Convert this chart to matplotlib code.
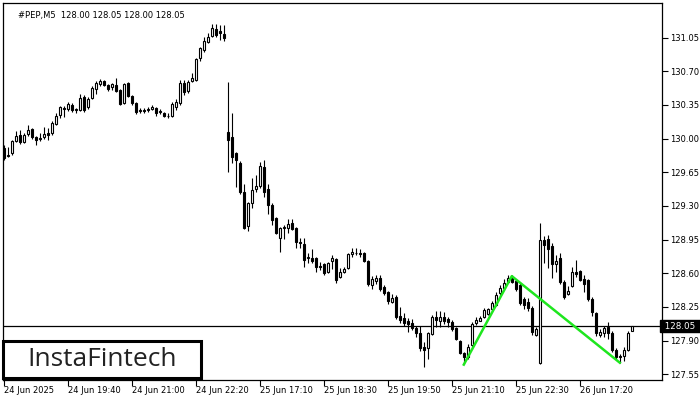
import numpy as np
import matplotlib
matplotlib.use("Agg")
import matplotlib.pyplot as plt
from matplotlib.patches import Rectangle

# M5 candles, 24 Jun 18:20 .. 26 Jun 18:25 (sessions are joined, no gaps)
opens = [129.90, 129.82, 129.85, 129.97, 130.04, 129.96, 130.05, 130.10, 130.02, 130.00,
         130.02, 130.06, 130.06, 130.15, 130.25, 130.32, 130.31, 130.35, 130.30, 130.30,
         130.43, 130.33, 130.42, 130.52, 130.57, 130.60, 130.56, 130.54, 130.56, 130.51,
         130.37, 130.58, 130.44, 130.37, 130.29, 130.30, 130.30, 130.31, 130.32, 130.28,
         130.27, 130.24, 130.23, 130.33, 130.37, 130.58, 130.50, 130.60, 130.61, 130.84,
         130.92, 131.00, 131.07, 131.14, 131.12, 131.09, 130.07, 130.02, 129.85, 129.75,
         129.44, 129.09, 129.33, 129.48, 129.51, 129.70, 129.48, 129.31, 129.17, 128.97,
         129.07, 129.07, 129.12, 129.07, 128.92, 128.90, 128.76, 128.76, 128.76, 128.68,
         128.70, 128.61, 128.73, 128.75, 128.56, 128.61, 128.65, 128.80, 128.81, 128.81,
         128.81, 128.73, 128.48, 128.52, 128.55, 128.46, 128.41, 128.30, 128.35, 128.16,
         128.13, 128.10, 128.08, 128.03, 127.98, 127.83, 127.82, 127.97, 128.14, 128.10,
         128.15, 128.12, 128.09, 128.03, 127.90, 127.77, 127.73, 127.85, 128.08, 128.10,
         128.14, 128.18, 128.23, 128.27, 128.39, 128.45, 128.51, 128.56, 128.52, 128.48,
         128.33, 128.30, 128.24, 127.96, 127.67, 128.95, 128.96, 128.88, 128.70, 128.76,
         128.51, 128.38, 128.47, 128.61, 128.62, 128.54, 128.53, 128.33, 128.19, 127.96,
         127.98, 128.04, 127.98, 127.80, 127.74, 127.74, 127.80, 128.00]
highs = [129.93, 129.91, 129.99, 130.08, 130.09, 130.06, 130.14, 130.11, 130.03, 130.06,
         130.12, 130.11, 130.18, 130.27, 130.34, 130.34, 130.38, 130.37, 130.32, 130.46,
         130.45, 130.43, 130.55, 130.60, 130.62, 130.61, 130.57, 130.58, 130.63, 130.52,
         130.58, 130.59, 130.45, 130.38, 130.32, 130.32, 130.33, 130.35, 130.33, 130.31,
         130.28, 130.27, 130.38, 130.41, 130.61, 130.61, 130.61, 130.68, 130.84, 130.95,
         131.06, 131.10, 131.19, 131.19, 131.18, 131.18, 130.59, 130.27, 129.86, 129.77,
         129.53, 129.34, 129.59, 129.62, 129.76, 129.78, 129.53, 129.33, 129.18, 129.08,
         129.10, 129.16, 129.16, 129.08, 128.97, 128.97, 128.81, 128.85, 128.77, 128.72,
         128.71, 128.72, 128.79, 128.76, 128.65, 128.67, 128.81, 128.86, 128.86, 128.85,
         128.82, 128.74, 128.57, 128.58, 128.58, 128.48, 128.42, 128.38, 128.37, 128.25,
         128.19, 128.13, 128.12, 128.05, 128.05, 127.88, 127.99, 128.17, 128.21, 128.21,
         128.20, 128.14, 128.11, 128.04, 127.91, 127.78, 127.86, 128.09, 128.14, 128.16,
         128.24, 128.24, 128.31, 128.40, 128.48, 128.54, 128.58, 128.58, 128.54, 128.50,
         128.35, 128.34, 128.26, 128.04, 129.12, 128.99, 129.00, 128.91, 128.79, 128.81,
         128.53, 128.47, 128.66, 128.74, 128.63, 128.58, 128.54, 128.35, 128.20, 128.02,
         128.05, 128.09, 128.00, 127.82, 127.76, 127.83, 128.00, 128.05]
lows = [129.78, 129.81, 129.83, 129.96, 129.94, 129.95, 130.03, 130.00, 129.93, 129.97,
        130.00, 129.99, 130.04, 130.14, 130.21, 130.22, 130.29, 130.28, 130.27, 130.29,
        130.28, 130.31, 130.41, 130.46, 130.55, 130.55, 130.49, 130.51, 130.48, 130.35,
        130.36, 130.43, 130.35, 130.26, 130.27, 130.27, 130.28, 130.30, 130.24, 130.26,
        130.22, 130.21, 130.22, 130.30, 130.35, 130.45, 130.47, 130.59, 130.60, 130.81,
        130.90, 130.99, 131.06, 131.06, 131.03, 131.02, 129.65, 129.75, 129.50, 129.42,
        129.06, 129.04, 129.28, 129.44, 129.49, 129.39, 129.22, 129.10, 129.01, 128.82,
        128.96, 129.02, 129.05, 128.86, 128.86, 128.66, 128.71, 128.71, 128.61, 128.63,
        128.58, 128.60, 128.64, 128.50, 128.55, 128.60, 128.64, 128.77, 128.79, 128.77,
        128.72, 128.47, 128.44, 128.49, 128.42, 128.37, 128.28, 128.29, 128.12, 128.08,
        128.05, 127.99, 128.01, 127.94, 127.79, 127.62, 127.71, 127.96, 128.04, 128.04,
        128.07, 128.04, 128.00, 127.91, 127.76, 127.66, 127.71, 127.83, 128.06, 128.10,
        128.13, 128.17, 128.21, 128.26, 128.36, 128.44, 128.50, 128.50, 128.42, 128.27,
        128.23, 128.21, 127.96, 127.95, 127.66, 128.71, 128.65, 128.55, 128.61, 128.49,
        128.33, 128.37, 128.46, 128.56, 128.52, 128.40, 128.31, 128.16, 127.95, 127.94,
        127.94, 127.92, 127.78, 127.71, 127.67, 127.69, 127.79, 128.00]
closes = [129.80, 129.83, 129.97, 130.03, 129.96, 130.04, 130.09, 130.02, 129.99, 130.01,
          130.05, 130.04, 130.16, 130.23, 130.33, 130.31, 130.36, 130.30, 130.30, 130.42,
          130.30, 130.41, 130.53, 130.58, 130.60, 130.56, 130.52, 130.57, 130.50, 130.36,
          130.57, 130.44, 130.37, 130.28, 130.30, 130.29, 130.31, 130.33, 130.27, 130.28,
          130.23, 130.23, 130.36, 130.38, 130.58, 130.48, 130.59, 130.63, 130.83, 130.94,
          131.01, 131.06, 131.15, 131.08, 131.10, 131.05, 129.99, 129.81, 129.78, 129.45,
          129.07, 129.33, 129.47, 129.51, 129.72, 129.44, 129.31, 129.15, 129.02, 129.07,
          129.08, 129.11, 129.06, 128.93, 128.91, 128.74, 128.76, 128.73, 128.66, 128.67,
          128.60, 128.71, 128.76, 128.53, 128.61, 128.64, 128.80, 128.82, 128.81, 128.80,
          128.73, 128.49, 128.54, 128.55, 128.44, 128.39, 128.31, 128.34, 128.14, 128.11,
          128.08, 128.07, 128.03, 127.98, 127.82, 127.80, 127.98, 128.15, 128.11, 128.14,
          128.10, 128.09, 128.02, 127.92, 127.77, 127.73, 127.83, 128.07, 128.11, 128.13,
          128.22, 128.23, 128.29, 128.37, 128.45, 128.50, 128.55, 128.51, 128.44, 128.29,
          128.27, 128.24, 127.99, 128.02, 128.95, 128.89, 128.85, 128.70, 128.73, 128.51,
          128.35, 128.42, 128.61, 128.59, 128.53, 128.49, 128.33, 128.20, 127.98, 127.99,
          128.03, 127.98, 127.80, 127.73, 127.73, 127.80, 127.98, 128.05]

tick_bars = [0, 16, 32, 48, 64, 80, 96, 112, 128, 144]
tick_labels = ["24 Jun 2025", "24 Jun 19:40", "24 Jun 21:00", "24 Jun 22:20", "25 Jun 17:10",
               "25 Jun 18:30", "25 Jun 19:50", "25 Jun 21:10", "25 Jun 22:30", "26 Jun 17:20"]
price_ticks = [127.55, 127.90, 128.25, 128.60, 128.95, 129.30, 129.65, 130.00, 130.35, 130.70, 131.05]
last_price = 128.05

# double bottom outline
pattern_x = [115, 127, 154]
pattern_y = [127.65, 128.57, 127.67]

o = np.array(opens)
h = np.array(highs)
l = np.array(lows)
c = np.array(closes)
x = np.arange(len(o))

plt.rcParams['font.family'] = ['DejaVu Sans']
fig = plt.figure(figsize=(7, 4), dpi=100)
ax = fig.add_axes([3 / 700, 20 / 400, 659 / 700, 377 / 400])

ax.vlines(x, l, h, color='black', linewidth=0.8, zorder=2)
up = c >= o
bottom = np.minimum(o, c)
height = np.maximum(np.abs(c - o), 0.004)
ax.bar(x[up], height[up], bottom=bottom[up], width=0.6, color='white',
       edgecolor='black', linewidth=0.8, zorder=3)
ax.bar(x[~up], height[~up], bottom=bottom[~up], width=0.6, color='black',
       edgecolor='black', linewidth=0.8, zorder=3)

ax.axhline(last_price, color='black', linewidth=0.9, zorder=1)
ax.plot(pattern_x, pattern_y, color='#1ee61e', linewidth=1.8, zorder=4)

ax.set_xlim(-0.2, 164.55)
ax.set_ylim(127.49, 131.41)

ax.yaxis.tick_right()
ax.set_yticks(price_ticks)
ax.set_yticklabels(['%.2f' % p for p in price_ticks], fontsize=6)
ax.tick_params(axis='y', direction='out', length=4, width=0.8, pad=2)

ax.set_xticks(tick_bars)
ax.set_xticklabels(tick_labels, fontsize=6)
ax.tick_params(axis='x', direction='out', length=4, width=0.8, pad=0.5)
for lab in ax.get_xticklabels():
    lab.set_ha('left')

for sp in ax.spines.values():
    sp.set_linewidth(0.9)

ax.text(1.0, last_price, ' %.2f ' % last_price, transform=ax.get_yaxis_transform(),
        fontsize=6.3, color='white', va='center', ha='left',
        bbox=dict(boxstyle='square,pad=0.2', facecolor='black', edgecolor='black'))

ax.text(0.023, 0.978, '#PEP,M5  128.00 128.05 128.00 128.05', transform=ax.transAxes,
        fontsize=6, color='black', va='top', ha='left')

# logo box
fig.patches.append(Rectangle((3 / 700, 22 / 400), 198 / 700, 37 / 400, transform=fig.transFigure,
                             facecolor='white', edgecolor='black', linewidth=2.2, zorder=10))
fig.text(102 / 700, 40 / 400, 'InstaFintech', fontsize=19, family='Open Sans', weight='medium',
         color='#222222', ha='center', va='center', zorder=11)

fig.savefig('out.png', dpi=100)
